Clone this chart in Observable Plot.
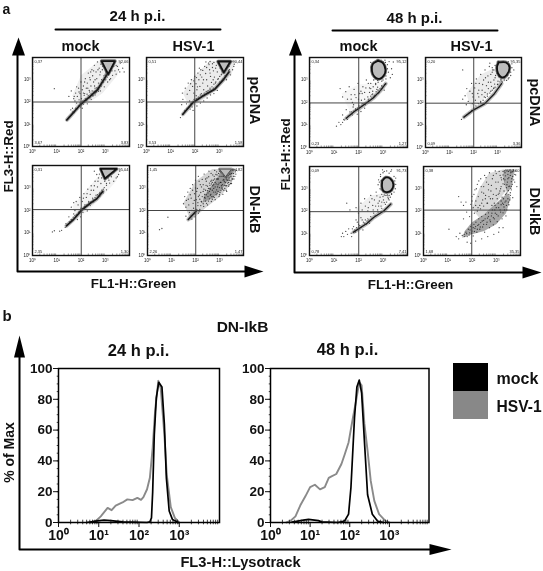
<!DOCTYPE html>
<html><head><meta charset="utf-8">
<script src="https://cdn.jsdelivr.net/npm/d3@7"></script>
<script src="https://cdn.jsdelivr.net/npm/@observablehq/plot@0.6"></script>
<style>
html,body{margin:0;padding:0;background:#fff}
#page{position:relative;width:543px;height:571px;overflow:hidden;font-family:"Liberation Sans",Arial,sans-serif}
#page svg{position:absolute;background:transparent;overflow:visible;filter:blur(.3px)}
</style></head><body><div id="page"></div>
<script>
// ---------- values (all log10 values x 100, flat x,y lists) ----------
const decadeTicks = [1, 10, 100, 1000];
const decadeLabels = ["10\u2070", "10\u00b9", "10\u00b2", "10\u00b3"];
const percentTicks = [0, 20, 40, 60, 80, 100];

// Panel a: gate percentages [top-left, top-right, bottom-left, bottom-right]
const gates24MockPc = ["0,37", "92,06", "3,67", "3,83"];
const gates24HsvPc  = ["0,51", "90,44", "3,53", "1,58"];
const gates24MockDn = ["0,31", "95,04", "2,35", "1,30"];
const gates24HsvDn  = ["1,45", "94,82", "2,26", "1,47"];
const gates48MockPc = ["0,34", "95,12", "0,23", "1,27"];
const gates48HsvPc  = ["0,20", "95,35", "0,09", "3,36"];
const gates48MockDn = ["0,09", "91,73", "0,78", "7,41"];
const gates48HsvDn  = ["0,38", "62,60", "1,68", "35,35"];

const dots24MockPc = [170,215,178,240,185,225,190,262,196,238,200,290,205,255,210,272,213,230,218,305,222,262,226,285,230,330,234,252,238,300,241,272,245,345,248,318,252,290,255,365,258,262,262,335,265,305,268,380,272,285,275,352,278,322,282,370,285,300,288,345,292,382,295,318,298,358,302,335,305,372,308,312,312,350,316,330,320,372,324,345,330,320,335,360,340,340,345,325,350,360,355,345,362,375,360,335,372,352,378,335,150,225,160,250,175,205,182,195,192,210,202,215,215,238,225,235,236,245,246,250,256,272,266,265,276,265,284,272,292,288,302,300,198,178,210,190,222,210,238,222,250,228,264,245,280,250,296,268,310,290,322,305,165,172,158,165,172,158,186,170,205,172,226,192,242,212,258,232,272,248,90,260,
140,118,148,128,152,135,158,140,165,155,172,152,178,172,183,168,190,182,196,196,202,188,208,205,212,198,218,215,224,208,230,228,236,218,242,236,248,228,254,248,260,240,266,262,272,255,278,272,284,285,290,295,296,310,302,318,308,335,314,350,320,362,215,290,228,262,240,335,258,300,270,345,290,360,305,345,318,300,328,340,345,365,210,240,192,245,182,268,172,225,236,310,252,340,280,335,300,325,315,365,335,380];
const dots24HsvPc = [148,240,160,262,168,235,172,285,178,252,185,300,190,270,195,240,199,315,204,282,208,255,212,330,216,300,220,270,224,345,228,312,232,285,236,255,240,360,244,328,248,300,252,272,256,375,260,345,264,315,268,288,272,372,276,340,280,312,284,285,288,365,292,335,296,305,300,280,304,352,308,322,312,298,318,345,324,318,330,300,338,342,346,322,355,345,362,370,150,212,165,192,178,205,188,178,196,212,205,228,215,215,226,238,238,228,250,245,262,255,276,262,290,270,302,290,316,305,330,322,342,345,168,172,180,168,192,162,208,182,222,195,236,205,250,218,264,232,278,238,292,252,245,380,262,382,278,378,340,378,352,382,360,360,145,188,158,162,
140,130,150,145,158,158,165,168,175,178,182,192,190,198,198,205,206,215,214,222,222,232,230,228,238,240,246,248,254,252,262,262,270,268,278,280,286,290,294,302,302,315,310,325,318,340,326,352,334,362,182,282,195,295,210,268,222,322,235,300,248,355,262,330,275,300,285,352,298,372,312,335,326,375,340,360,206,310,218,352,232,342,258,368,272,355];
const dots24MockDn = [160,215,175,200,180,240,188,225,195,258,200,210,205,240,212,275,216,225,222,258,228,295,232,240,238,272,242,310,248,255,252,290,258,330,262,268,268,305,272,345,278,280,282,320,288,358,292,295,298,330,305,312,312,345,318,322,325,350,335,330,345,345,355,360,360,375,150,172,160,160,170,185,178,172,185,160,192,195,198,172,208,192,218,205,226,198,238,222,252,238,265,252,278,262,292,278,305,292,170,235,90,110,82,105,138,142,145,138,152,150,120,112,112,108,255,375,265,360,276,362,
135,125,142,135,150,142,160,158,168,170,175,178,182,182,190,190,198,200,206,208,214,218,222,225,232,235,240,238,250,248,258,258,268,270,276,275,286,290,296,302,305,320,315,335,225,275,242,290,255,310,270,330,285,345,300,362,320,375,335,368,350,350,210,255];
const dots24HsvDn = [150,230,155,262,162,245,168,282,172,225,178,298,182,255,188,315,190,232,196,275,200,335,203,248,208,298,212,352,216,268,220,315,224,240,228,338,232,285,236,362,240,255,244,312,248,345,252,278,256,375,260,298,264,330,268,262,272,358,276,315,280,378,284,282,288,340,292,305,296,365,300,270,304,325,308,382,312,295,316,352,320,312,324,372,328,290,332,335,336,355,340,315,346,378,352,340,358,365,364,352,370,378,175,192,182,178,192,210,200,190,210,222,218,205,226,238,234,218,242,242,250,225,258,252,266,240,274,262,282,248,290,275,298,262,306,288,314,272,322,298,330,285,338,308,346,320,354,340,160,175,170,160,185,162,198,172,212,188,245,270,252,262,258,285,264,272,270,290,276,282,282,305,288,292,294,315,300,302,306,325,312,315,318,338,324,325,330,348,336,335,342,362,348,350,262,295,272,310,282,325,292,340,302,352,312,368,322,378,332,382,242,290,250,308,258,322,268,335,278,352,288,372,50,115,60,120,85,170,
185,200,195,185,205,205,215,195,222,222,232,230,238,258,246,232,254,242,262,268,270,250,278,258,286,270,294,285,302,280,310,300,318,290,326,310,334,322,342,335,350,365,358,352,366,372,195,245,205,285,215,330,225,305,235,295,245,330,255,350,265,365,275,335,285,360,295,340,305,372,315,335,325,350,335,368,345,362,355,380,200,300,212,262,222,280,232,315,242,340,254,298,266,318,276,298,286,318,298,322,308,310,318,358,328,340,338,325,348,332,210,235,218,250,228,262,238,272,250,288,260,312,270,325,280,340,290,358,300,375,310,352,320,330,330,310,340,345,350,320,360,340,368,362,178,270,188,290,170,250,160,215];
const dots48MockPc = [125,262,135,225,148,248,155,215,162,270,170,235,175,200,182,258,190,222,198,285,205,240,212,210,218,270,225,245,232,300,238,225,245,265,250,285,258,250,262,225,270,280,278,268,285,245,295,275,305,255,150,168,165,158,178,180,188,170,202,185,215,195,228,190,242,210,255,220,268,232,282,240,296,262,312,282,110,95,120,112,128,102,140,125,135,145,155,125,175,145,195,148,210,160,225,175,268,372,272,318,255,345,262,300,278,298,295,295,312,305,322,335,318,368,325,382,342,380,335,350,330,310,250,378,292,388,308,388,338,325,270,285,
135,112,142,122,150,132,158,140,166,148,172,158,180,162,188,172,196,175,205,178,214,185,222,195,232,200,240,215,250,228,258,238,265,232,272,248,280,255,288,262,296,270,306,280,170,215,185,235,200,215,215,240,230,265,245,245,260,270,280,290,180,190,210,250,225,215,250,262,240,285,255,235,275,258,262,355,268,340,268,305,278,312,290,305,300,300,312,318,318,350,310,378,300,382,285,388,270,380,258,328];
const dots48HsvPc = [165,230,172,262,178,205,185,250,192,285,198,225,205,265,212,305,218,240,224,285,230,325,236,255,242,300,248,345,254,275,260,318,266,360,272,290,278,335,284,262,290,310,296,350,302,282,308,270,314,300,320,290,328,300,345,305,155,345,195,195,208,210,222,225,235,235,248,245,262,262,275,272,288,282,302,295,315,305,230,205,245,225,258,238,272,250,285,265,268,375,280,345,292,320,360,372,355,335,348,310,338,298,368,345,155,215,170,190,
150,125,160,135,172,145,182,155,192,165,200,175,210,185,220,195,230,200,240,210,250,222,258,228,268,242,278,255,290,268,300,280,310,292,195,240,210,285,222,255,238,280,250,310,262,290,272,325,285,300,298,330,285,345,305,315,318,295,330,312,342,320,355,320,305,375,290,365,278,355,360,355,345,382];
const dots48MockDn = [190,215,200,190,210,235,215,205,225,255,228,222,238,200,245,240,250,270,258,225,265,250,272,285,280,235,288,262,295,275,302,250,312,270,322,255,165,205,152,235,135,100,148,108,160,120,140,85,172,85,180,130,195,150,205,120,215,160,225,145,238,165,250,175,262,190,278,205,292,222,305,238,320,262,335,275,288,300,285,330,290,365,305,378,325,370,345,355,352,320,345,285,325,270,305,272,280,318,298,385,335,385,352,348,
130,85,155,95,170,100,178,105,185,115,192,125,198,118,205,135,212,128,220,150,228,160,235,155,242,160,255,168,268,180,280,195,295,212,310,230,325,250,175,120,188,105,200,140,218,115,232,140,245,145,260,205,270,222,285,245,300,265,315,240,330,262,240,215,255,255,275,268,282,222,295,240,210,170,190,160,292,295,282,340,290,355,300,372,315,380,332,378,348,335,350,300,335,278,318,272];
const dots48HsvDn = [195,230,200,265,205,215,212,295,216,245,222,320,226,265,232,225,236,345,240,285,244,250,248,310,252,360,256,270,260,330,264,235,268,295,272,372,276,255,280,315,284,345,288,275,292,235,296,380,300,300,304,255,308,330,312,280,316,360,320,310,324,262,328,378,332,290,336,340,340,245,344,318,348,365,352,275,356,385,360,302,364,345,368,260,372,385,376,330,380,362,385,310,320,350,328,362,336,372,344,380,352,350,360,372,368,355,330,345,338,358,346,330,354,312,362,332,370,380,376,365,340,385,350,378,358,360,334,320,342,305,350,292,358,282,160,90,168,95,175,105,180,85,185,118,190,102,195,130,200,110,205,88,208,140,212,122,216,150,220,105,224,135,228,165,232,118,236,148,240,175,244,128,248,158,252,105,256,185,260,140,264,168,268,192,272,125,276,152,280,178,284,205,288,138,292,165,296,190,300,215,304,152,308,178,312,125,316,205,320,228,324,165,328,192,332,218,336,240,340,178,344,205,348,255,352,228,356,250,135,85,145,75,150,100,105,118,155,240,145,265,165,225,175,240,165,165,178,195,190,175,210,190,222,200,235,210,248,222,262,235,180,60,195,55,215,65,240,75,265,85,290,95,310,105,328,125,
170,85,178,98,188,92,192,115,198,100,205,125,210,108,215,130,222,118,228,140,234,128,242,155,248,140,254,165,262,150,268,175,274,160,282,190,288,170,294,205,302,185,310,215,318,195,326,235,334,205,342,225,350,240,358,270,362,295,366,320,200,245,208,275,218,300,228,335,238,310,248,280,258,350,268,320,278,290,288,360,298,330,308,275,318,300,328,322,338,275,348,345,215,225,225,215,240,235,255,255,270,265,285,255,300,270,315,290,330,255,342,280,352,310,300,368,312,378,322,340,362,310,372,340,378,380,365,375,348,385,335,380,282,225,295,225,308,235,320,245,330,230];

const cloud24MockPc = [165,230,200,320,270,382,365,382,350,320,290,240,230,195,180,170];
const cloud24HsvPc  = [150,240,200,320,262,385,365,385,350,320,300,270,240,215,180,170];
const cloud24MockDn = [165,220,230,300,285,370,360,380,345,330,290,265,230,200,180,160];
const cloud24HsvDn  = [150,235,200,330,270,385,370,385,350,320,300,260,240,210,180,155];
const cloud48MockPc = [130,240,200,280,290,290,310,260,270,215,215,170,170,150];
const cloud48HsvPc  = [170,240,230,325,280,350,350,310,300,270,250,225,190,170];
const cloud48MockDn = [190,210,250,270,300,280,340,280,310,230,265,180,210,150];
const cloud48HsvDn  = [200,210,230,300,270,370,330,388,340,290,280,210,230,170];

const core24HsvDn  = [230,235,270,255,310,295,350,355,365,385,310,385,290,345,260,300,235,265];
const core48HsvDnLow = [160,80,200,95,250,110,300,140,340,190,360,260,345,280,300,235,250,185,200,150,170,110];
const core48HsvDnTop = [330,385,375,385,365,310,345,280,330,340];

const stream24MockPc = [142,120,165,148,199,190,234,222,268,255,296,303,318,345];
const stream24HsvPc  = [150,145,192,198,234,228,282,258,319,303,340,335];
const stream24MockDn = [140,132,169,160,203,202,238,232,265,252,290,285];
const stream24HsvDn  = [170,160,203,198];
const stream48MockPc = [150,130,188,164,200,172,260,220,290,254,311,284];
const stream48HsvPc  = [160,135,197,165,246,194,287,239,317,284];
const stream48MockDn = [180,105,235,145,263,172,304,201,332,231];
const stream48HsvDn  = [];

const ring24MockPc = [285,384,340,384,312,325];
const ring24HsvPc  = [295,382,346,382,319,333];
const ring24MockDn = [281,385,347,385,299,342];
const ring24HsvDn  = [300,384,350,384,325,350];
const ring48MockPc = [279,385,300,375,310,345,303,320,285,305,265,315,255,340,258,370];
const ring48HsvPc  = [305,378,335,378,350,355,338,322,318,312,302,330,298,358];
const ring48MockDn = [297,335,310,350,330,345,342,320,335,295,318,285,302,290,296,310];

// Panel b: histograms, log10(x) x 100 and % of max
const h24Hsv  = [80,0,93,1,105,4,122,9.5,132,8,142,11,159,13,171,15,184,14.5,196,16,205,14.7,211,16.5,220,21.6,227,29,234,48.7,240,72.5,248,92,254,87,263,57,269,31,279,10,289,3,300,0];
const h24Mock = [70,0,97,1,113,1.5,130,1.2,160,.4,220,0,227,.5,231,3,234,20,238,57,243,81,249,91,257,88,263,64,268,29,275,7.5,283,2,298,0];
const h48Hsv  = [40,0,50,1,63,4,75,11,88,17,100,23,112,24.5,125,21.5,137,23,147,29,154,30,166,31.5,179,38,187,44,197,52,208,68,216,79,224,91,230,89,237,64,245,46.5,253,27,262,14,274,5.4,290,1,300,0];
const h48Mock = [54,.3,83,1.5,96,2,121,1.2,129,.4,170,0,187,1,197,5.4,203,22.7,212,68,218,88,224,92.5,230,84,237,53,245,18,257,5.4,270,1,285,0];

// ---------- helpers ----------
const pairs = f => d3.range(0, f.length, 2).map(i => ({x: 10 ** (f[i] / 100), y: 10 ** (f[i + 1] / 100)}));
const closed = f => pairs(f.concat(f.slice(0, 2)));
const font = '"Liberation Sans",Arial,sans-serif';
const minorX = [1, 10, 100, 1000].flatMap(d => [2,3,4,5,6,7,8,9].map(k => k * d));
const decadeFormat = d => decadeLabels[Math.round(Math.log10(d))];
const page = document.getElementById("page");
function place(svg, left, top) { svg.style.left = left + "px"; svg.style.top = top + "px"; page.appendChild(svg); }

function scatter(p) {
  const mL = 14, mB = 12, mT = 2, mR = 3;
  const [a, b, c, d] = p.gates;
  const corner = (t, anchor, textAnchor, dx, dy) =>
    Plot.text([t], {text: t => t, frameAnchor: anchor, textAnchor, dx, dy, fontSize: 4, fill: "#222"});
  const ringCurve = p.round ? "cardinal-closed" : "linear-closed";
  const svg = Plot.plot({
    width: p.w + mL + mR, height: p.h + mT + mB,
    marginLeft: mL, marginRight: mR, marginTop: mT, marginBottom: mB,
    style: {fontFamily: font, background: "transparent"},
    x: {type: "log", domain: [1, 1e4]}, y: {type: "log", domain: [1, 1e4]},
    marks: [
      Plot.line(closed(p.cloud), {x: "x", y: "y", fill: p.cloudFill, stroke: "none"}),
      ...(p.cores || []).map(k => Plot.line(closed(k), {x: "x", y: "y", fill: p.coreFill, stroke: "none", fillOpacity: .55})),
      Plot.dot(pairs(p.dots), {x: "x", y: "y", r: .65, fill: "#1a1a1a", fillOpacity: .8, stroke: "none"}),
      Plot.line(pairs(p.stream), {x: "x", y: "y", stroke: "#777", strokeWidth: 4, strokeOpacity: .5}),
      Plot.line(pairs(p.stream), {x: "x", y: "y", stroke: "#1c1c1c", strokeWidth: p.sw || 1.8}),
      ...(p.ring ? [
        Plot.line(closed(p.ring), {x: "x", y: "y", stroke: "#555", strokeWidth: p.faint ? 3 : 3.5, strokeOpacity: p.faint ? .5 : .8, curve: ringCurve}),
        Plot.line(closed(p.ring), {x: "x", y: "y", fill: "#bdbdbd", stroke: p.faint ? "#555" : "#111", strokeWidth: p.faint ? 1 : 1.8, curve: ringCurve})
      ] : []),
      Plot.ruleX([10 ** (p.cross[0] / 100)], {stroke: "#444", strokeWidth: 1}),
      Plot.ruleY([10 ** (p.cross[1] / 100)], {stroke: "#444", strokeWidth: 1}),
      Plot.ruleX(minorX, {x: d => d, y1: 1, y2: 1.17, stroke: "#333", strokeWidth: .5}),
      Plot.ruleY(minorX, {y: d => d, x1: 1, x2: 1.15, stroke: "#333", strokeWidth: .5}),
      Plot.axisX(decadeTicks, {tickSize: 0, tickPadding: 3, fontSize: 4.5, fill: "#222", label: null, tickFormat: decadeFormat}),
      Plot.axisY(decadeTicks, {tickSize: 0, tickPadding: 2, fontSize: 4.5, fill: "#222", label: null, tickFormat: decadeFormat}),
      corner(a, "top-left", "start", 2, 3),
      corner(b, "top-right", "end", -1, 3),
      corner(c, "bottom-left", "start", 2, -3),
      corner(d, "bottom-right", "end", -1, -3),
      Plot.frame({stroke: "#111", strokeWidth: 1.4})
    ]
  });
  place(svg, p.left - mL, p.top - mT);
}

function histogram(hsv, mock, left, top, w, h) {
  const mL = 40, mR = 4, mT = 6, mB = 26;
  const minorY = d3.range(5, 100, 5);
  const curve = f => d3.range(0, f.length, 2).map(i => ({x: 10 ** (f[i] / 100), y: f[i + 1]}));
  const svg = Plot.plot({
    width: w + mL + mR, height: h + mT + mB,
    marginLeft: mL, marginRight: mR, marginTop: mT, marginBottom: mB,
    style: {fontFamily: font, background: "transparent"},
    x: {type: "log", domain: [1, 1e4]}, y: {domain: [0, 100]},
    marks: [
      Plot.line(curve(hsv), {x: "x", y: "y", stroke: "#8a8a8a", strokeWidth: 1.9}),
      Plot.line(curve(mock), {x: "x", y: "y", stroke: "#000", strokeWidth: 1.7}),
      Plot.ruleX(minorX, {x: d => d, y1: -1.5, y2: 1.5, stroke: "#111", strokeWidth: .8}),
      Plot.ruleY(minorY, {y: d => d, x1: 0.93, x2: 1.05, stroke: "#111", strokeWidth: .8}),
      Plot.axisX(decadeTicks, {tickSize: 5, tickPadding: 3, fontSize: 14, fontWeight: "bold", fill: "#111", stroke: "#111", strokeWidth: 1, label: null, tickFormat: decadeFormat}),
      Plot.axisY(percentTicks, {tickSize: 5, tickPadding: 1, fontSize: 13.5, fontWeight: "bold", fill: "#111", stroke: "#111", strokeWidth: 1, label: null}),
      Plot.frame({stroke: "#000", strokeWidth: 1.5})
    ]
  });
  place(svg, left - mL, top - mT);
}

// ---------- layout of the figure furniture ----------
const titlesStart = [
  {t:"a",x:2,y:13,s:14},{t:"b",x:2,y:320,s:15},
  {t:"mock",x:496,y:383,s:16},{t:"HSV-1",x:496,y:411,s:15.6}
];
const titlesMiddle = [
  {t:"24 h p.i.",x:137,y:20,s:15},{t:"48 h p.i.",x:414,y:22,s:15},
  {t:"mock",x:80,y:50,s:14.5},{t:"HSV-1",x:193,y:50,s:14.5},
  {t:"mock",x:358,y:50,s:14.5},{t:"HSV-1",x:471,y:50,s:14.5},
  {t:"FL3-H::Red",x:12,y:156,s:13.4,r:-90},{t:"FL3-H::Red",x:289,y:154,s:13.4,r:-90},
  {t:"FL1-H::Green",x:133,y:287,s:13.4},{t:"FL1-H::Green",x:410,y:288,s:13.4},
  {t:"pcDNA",x:249,y:100,s:14.4,r:90},{t:"DN-IkB",x:249,y:209,s:14.4,r:90},
  {t:"pcDNA",x:529,y:102,s:14.4,r:90},{t:"DN-IkB",x:529,y:211,s:14.4,r:90},
  {t:"DN-IkB",x:242,y:331,s:15.5},{t:"24 h p.i.",x:138,y:355,s:16.5},{t:"48 h p.i.",x:347,y:354,s:16.5},
  {t:"% of Max",x:13,y:452,s:14,r:-90},{t:"FL3-H::Lysotrack",x:240,y:566,s:14.7}
];
const strokes = [
  [[55,29],[220,29]], [[332,30],[497,30]],
  [[17,50],[17,271],[246,271]], [[294,50],[294,272],[524,272]], [[19,355],[19,549],[431,549]]
];
const heads = [
  [[18,37],[11.5,55],[24.5,55]], [[295,38],[288.5,55],[301.5,55]], [[19,335],[13.5,357],[24.5,357]],
  [[263,271],[244,265],[244,277]], [[541,272],[522,266],[522,278]], [[451,549],[429,543.5],[429,554.5]]
];
const legendBoxes = [{x1:453,x2:488,y1:363,y2:391,c:"#000"},{x1:453,x2:488,y1:391,y2:419,c:"#888"}];

const overlay = Plot.plot({
  width: 543, height: 571, margin: 0,
  style: {fontFamily: font, background: "transparent"},
  x: {type: "identity", axis: null}, y: {type: "identity", axis: null}, color: {type: "identity"},
  marks: [
    ...strokes.map(s => Plot.line(s, {x: d => d[0], y: d => d[1], stroke: "#000", strokeWidth: 2})),
    ...heads.map(s => Plot.line(s.concat([s[0]]), {x: d => d[0], y: d => d[1], fill: "#000", stroke: "none"})),
    Plot.rect(legendBoxes, {x1: "x1", x2: "x2", y1: "y1", y2: "y2", fill: "c"}),
    Plot.text(titlesStart, {x: "x", y: "y", text: "t", fontSize: "s", textAnchor: "start", fontWeight: "bold", fill: "#111", lineAnchor: "bottom"}),
    Plot.text(titlesMiddle, {x: "x", y: "y", text: "t", fontSize: "s", textAnchor: "middle", rotate: d => d.r || 0, fontWeight: "bold", fill: "#111", lineAnchor: "bottom"})
  ]
});
place(overlay, 0, 0);

// ---------- panels ----------
const W = 97, H = 89;
scatter({left:32,top:57,w:W,h:H,cross:[200,200],gates:gates24MockPc,dots:dots24MockPc,cloud:cloud24MockPc,cloudFill:"#efefef",stream:stream24MockPc,ring:ring24MockPc});
scatter({left:146,top:57,w:W,h:H,cross:[199,200],gates:gates24HsvPc,dots:dots24HsvPc,cloud:cloud24HsvPc,cloudFill:"#ebebeb",stream:stream24HsvPc,ring:ring24HsvPc});
scatter({left:32,top:165,w:W,h:90,cross:[201,204],gates:gates24MockDn,dots:dots24MockDn,cloud:cloud24MockDn,cloudFill:"#f3f3f3",stream:stream24MockDn,ring:ring24MockDn});
scatter({left:147,top:165,w:96,h:90,cross:[201,200],gates:gates24HsvDn,dots:dots24HsvDn,cloud:cloud24HsvDn,cloudFill:"#d4d4d4",cores:[core24HsvDn],coreFill:"#666",stream:stream24HsvDn,sw:1.5,ring:ring24HsvDn,faint:true});
scatter({left:309,top:57,w:98,h:90,cross:[201,198],gates:gates48MockPc,dots:dots48MockPc,cloud:cloud48MockPc,cloudFill:"#f6f6f6",stream:stream48MockPc,sw:1.3,ring:ring48MockPc,round:true});
scatter({left:425,top:57,w:96,h:90,cross:[201,197],gates:gates48HsvPc,dots:dots48HsvPc,cloud:cloud48HsvPc,cloudFill:"#ececec",stream:stream48HsvPc,sw:1.3,ring:ring48HsvPc,round:true});
scatter({left:309,top:166,w:98,h:89,cross:[201,197],gates:gates48MockDn,dots:dots48MockDn,cloud:cloud48MockDn,cloudFill:"#f0f0f0",stream:stream48MockDn,sw:1.4,ring:ring48MockDn,round:true});
scatter({left:423,top:166,w:97,h:89,cross:[199,204],gates:gates48HsvDn,dots:dots48HsvDn,cloud:cloud48HsvDn,cloudFill:"#d8d8d8",cores:[core48HsvDnLow,core48HsvDnTop],coreFill:"#5e5e5e",stream:stream48HsvDn});

histogram(h24Hsv, h24Mock, 58, 368, 161, 154);
histogram(h48Hsv, h48Mock, 270, 368, 158.5, 154);
</script></body></html>
